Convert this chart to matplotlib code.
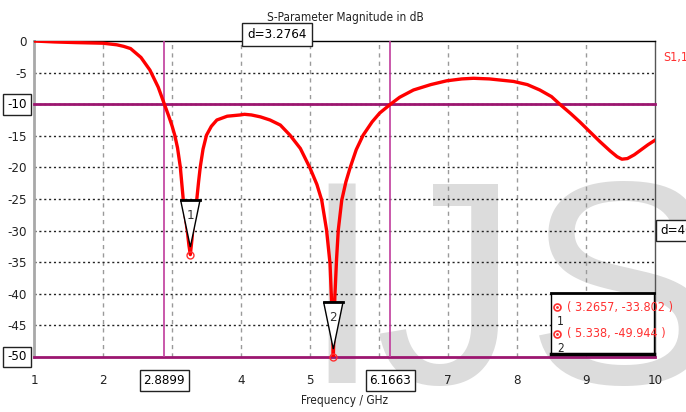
import numpy as np
import matplotlib
matplotlib.use('Agg')
import matplotlib.pyplot as plt
import matplotlib.transforms as mtransforms
from matplotlib.patches import Polygon
from matplotlib import font_manager

# narrow face for the labels, if one is installed
narrow = 'DejaVu Sans'
names = [(f.name, f.stretch) for f in font_manager.fontManager.ttflist]
if any(n == 'Liberation Sans Narrow' for n, s in names):
    narrow = 'Liberation Sans Narrow'
elif ('DejaVu Sans', 'condensed') in names:
    plt.rcParams['font.stretch'] = 'condensed'
plt.rcParams['font.family'] = [narrow, 'DejaVu Sans']

# S1,1 magnitude
freq = [1.0, 1.3, 1.6, 2.0, 2.2, 2.3, 2.4, 2.55, 2.68, 2.8, 2.8899, 2.95, 3.0, 3.04, 3.08, 3.12,
        3.164, 3.195, 3.22, 3.245, 3.2657, 3.29, 3.31, 3.335, 3.358, 3.385, 3.41, 3.45, 3.5, 3.57,
        3.65, 3.8, 3.99, 4.05, 4.15, 4.28, 4.42, 4.57, 4.71, 4.86, 5.0, 5.1, 5.17, 5.24, 5.29,
        5.31, 5.325, 5.338, 5.35, 5.36, 5.385, 5.41, 5.46, 5.52, 5.58, 5.67, 5.77, 5.9, 6.01,
        6.1663, 6.3, 6.5, 6.75, 6.98, 7.2, 7.37, 7.6, 7.95, 8.15, 8.33, 8.5, 8.62, 8.78, 8.91,
        9.05, 9.2, 9.35, 9.45, 9.52, 9.6, 9.7, 9.8, 9.9, 10.0]
s11 = [0.0, -0.15, -0.25, -0.35, -0.6, -0.85, -1.2, -2.6, -4.6, -7.3, -10.0, -11.8, -13.4, -14.9,
       -16.9, -19.9, -25.2, -28.0, -29.9, -32.3, -33.8, -31.3, -28.6, -26.4, -25.2, -22.3, -19.9,
       -17.1, -14.9, -13.5, -12.5, -11.9, -11.7, -11.6, -11.7, -12.0, -12.5, -13.3, -14.9, -17.0,
       -20.1, -22.7, -25.2, -29.9, -35.2, -40.5, -44.5, -49.944, -45.0, -40.5, -34.5, -29.9,
       -25.2, -22.3, -20.1, -17.2, -14.9, -12.8, -11.4, -10.0, -8.9, -7.75, -6.9, -6.3, -6.0,
       -5.9, -6.0, -6.4, -6.9, -7.75, -8.8, -10.0, -11.5, -12.8, -14.3, -15.9, -17.4, -18.3,
       -18.7, -18.6, -18.0, -17.2, -16.4, -15.7]

# markers 1 and 2
marker_freq = [3.2657, 5.338]
marker_db = [-33.802, -49.944]
marker_names = ['1', '2']

# -10 dB bandwidth crossings
limit_db = [-10, -50]
cross_freq = [2.8899, 6.1663]

xticks = [1, 2, 4, 5, 7, 8, 9, 10]
yticks = [0, -5, -15, -20, -25, -30, -35, -40, -45]

mag = '#9c1670'
mag_v = '#c03c9c'

fig = plt.figure(figsize=(6.86, 4.12), dpi=100)
ax = fig.add_axes([34/686, 55/412, 621/686, 316/412])
ax.set_facecolor('none')

# watermark behind the axes, one letter at a time
for ch, cx in zip('IJS', [342, 447, 622]):
    fig.text(cx/686, 29/412, ch, fontsize=208, color='#dcdcdc', family='Liberation Sans',
             stretch='normal', ha='center', va='baseline', zorder=-5)

ax.set_xlim(1, 10)
ax.set_ylim(-50, 0)

for x in range(2, 10):
    ax.axvline(x, color='#9a9a9a', lw=1, ls=(0, (3, 3)), zorder=1)
for y in range(-45, 0, 5):
    ax.axhline(y, color='#222222', lw=1, ls=(0, (1.5, 2)), zorder=1)

for y in limit_db:
    ax.axhline(y, color=mag, lw=2, zorder=3, clip_on=False)
for x in cross_freq:
    ax.axvline(x, color=mag_v, lw=1.2, zorder=3)

ax.plot(freq, s11, color='#ff0000', lw=2.4, zorder=4, solid_joinstyle='round')

# marker triangles and circles
for f, d, n in zip(marker_freq, marker_db, marker_names):
    tri = Polygon([[f - 0.14, d + 8.6], [f + 0.14, d + 8.6], [f, d + 1.2]], closed=True,
                  facecolor='white', edgecolor='black', lw=1, zorder=6)
    ax.add_patch(tri)
    ax.plot([f - 0.14, f + 0.14], [d + 8.6, d + 8.6], color='black', lw=2, zorder=7)
    ax.text(f, d + 6.2, n, ha='center', va='center', fontsize=9.5, color='#333333', zorder=8)
    ax.plot(f, d, 'o', mfc='none', mec='#ff3030', ms=5, mew=1, zorder=8, clip_on=False)

ax.set_xticks(xticks)
ax.set_xticklabels([str(t) for t in xticks])
ax.set_yticks(yticks)
ax.set_yticklabels([str(t) for t in yticks])
ax.tick_params(length=0, labelsize=9.5, colors='#222222')
ax.tick_params(axis='x', pad=12)
ax.tick_params(axis='y', pad=5)

ax.spines['left'].set_color('#a8a8a8')
ax.spines['left'].set_linewidth(2)
ax.spines['top'].set_color('black')
ax.spines['top'].set_linewidth(1)
ax.spines['right'].set_color('#555555')
ax.spines['right'].set_linewidth(1)
ax.spines['bottom'].set_visible(False)

ax.set_xlabel('Frequency / GHz', fontsize=8.5, color='#222222', labelpad=5)
fig.text(345/686, 1 - 18/412, 'S-Parameter Magnitude in dB', fontsize=8.5, color='#222222',
         ha='center', va='center')

box = dict(boxstyle='square,pad=0.3', fc='white', ec='#222222', lw=1)
# boxed values on the axes
xt = mtransforms.blended_transform_factory(ax.transData, ax.transAxes)
yt = mtransforms.blended_transform_factory(ax.transAxes, ax.transData)
for x in cross_freq:
    ax.text(x, -0.075, '%.4f' % x, transform=xt, ha='center', va='center', fontsize=9.5,
            bbox=box, zorder=9)
for y in limit_db:
    ax.text(-0.012, y, str(y), transform=yt, ha='right', va='center', fontsize=9.5,
            bbox=box, zorder=9)
ax.text(np.mean(cross_freq), 1.0, 'd=%.4f' % (cross_freq[1] - cross_freq[0]), transform=xt,
        ha='center', va='bottom', fontsize=9.5, bbox=dict(box, boxstyle='square,pad=0.4'),
        zorder=9, clip_on=False)
ax.text(1.008, np.mean(limit_db), 'd=%d' % (limit_db[0] - limit_db[1]), transform=yt,
        ha='left', va='center', fontsize=9.5, bbox=box, zorder=9, clip_on=False)

fig.text(663/686, 1 - 58/412, 'S1,1', fontsize=9, color='#ff3030', ha='left', va='center')

# marker readout box
lg = fig.add_axes([551/686, 58/412, 103/686, 61/412])
lg.set_xlim(0, 1)
lg.set_ylim(0, 1)
lg.set_xticks([])
lg.set_yticks([])
for s in lg.spines.values():
    s.set_color('black')
    s.set_linewidth(1)
lg.spines['top'].set_linewidth(2)
lg.spines['bottom'].set_linewidth(2.5)
rows = [0.77, 0.33]
for r, f, d, n in zip(rows, marker_freq, marker_db, marker_names):
    lg.plot(0.06, r, 'o', mfc='none', mec='#ff3030', ms=5, mew=1.2)
    lg.plot(0.06, r, '.', color='#ff3030', ms=2)
    lg.text(0.09, r - 0.24, n, fontsize=8.5, color='#222222', ha='center', va='center')
    lg.text(0.16, r, '( %g, %g )' % (f, d), fontsize=9, color='#ff3030', ha='left',
            va='center')

fig.savefig('out.png', dpi=100)
